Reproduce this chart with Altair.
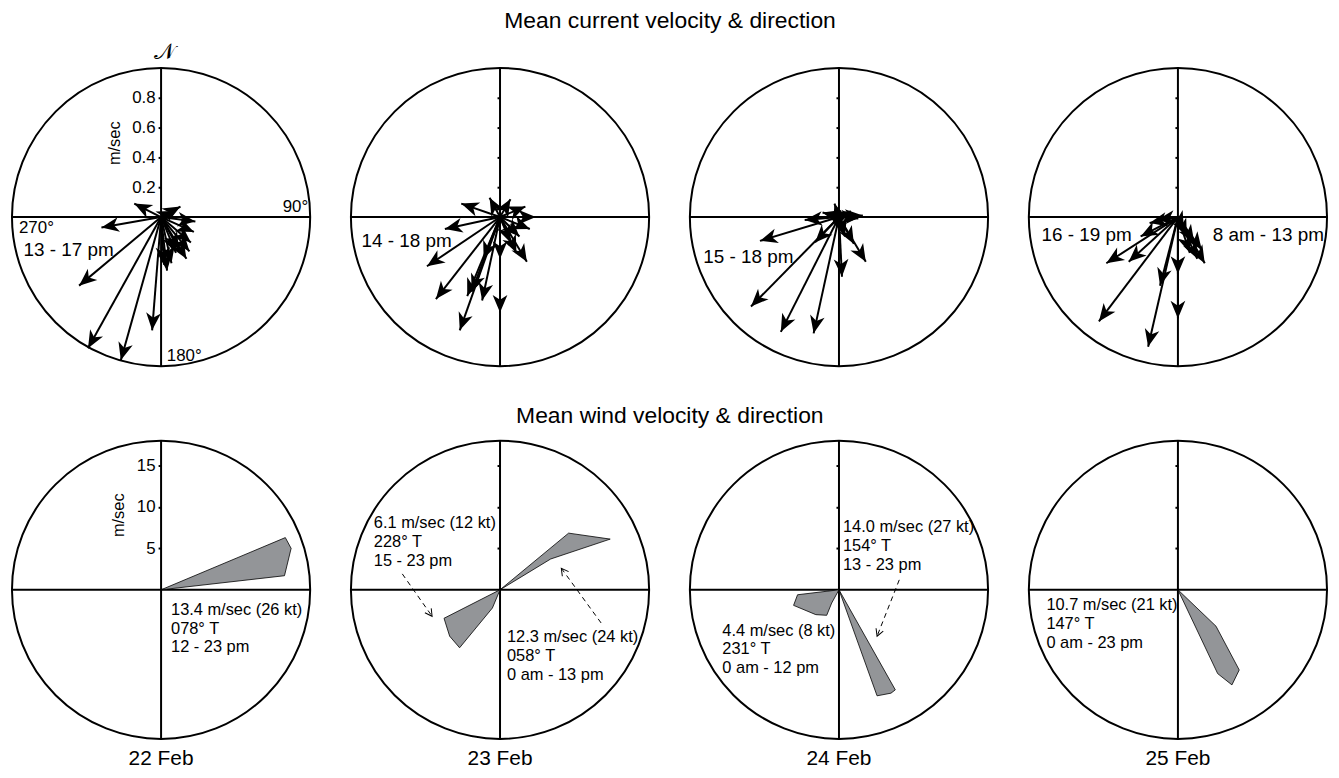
import altair as alt
import pandas as pd

# ---------------- data ----------------
dates = ["22 Feb", "23 Feb", "24 Feb", "25 Feb"]
title_current = "Mean current velocity & direction"
title_wind = "Mean wind velocity & direction"

# current vectors: east (u) and north (v) components, m/s
cur_u_22 = [-0.49, -0.27, -0.06, -0.55, -0.40, -0.18, 0.13, 0.09, 0.23, 0.22, 0.19, 0.17, 0.12, 0.10, 0.04, 0.07, 0.02, 0.20]
cur_v_22 = [-0.88, -0.96, -0.76, -0.46, -0.07, 0.09, 0.07, 0.04, -0.03, -0.10, -0.23, -0.28, -0.22, -0.24, -0.36, -0.31, -0.32, -0.17]
cur_u_23 = [-0.27, -0.43, -0.49, -0.37, -0.26, -0.22, -0.12, -0.19, 0.00, 0.00, 0.18, 0.11, 0.20, 0.24, 0.17, 0.07, -0.07, 0.13, 0.07, -0.11]
cur_v_23 = [-0.76, -0.55, -0.33, -0.08, 0.09, -0.53, -0.56, -0.50, -0.64, -0.28, -0.30, -0.24, -0.08, 0.00, 0.07, 0.12, 0.13, -0.13, -0.17, -0.28]
cur_u_24 = [-0.59, -0.39, -0.17, -0.53, 0.02, 0.18, -0.16, -0.23, 0.13, -0.03, 0.08, -0.11, 0.10, 0.04, 0.16]
cur_v_24 = [-0.60, -0.77, -0.78, -0.16, -0.40, -0.30, -0.17, -0.02, -0.01, 0.09, 0.04, 0.03, -0.18, -0.13, 0.01]
cur_u_25 = [-0.53, -0.20, 0.00, 0.00, -0.12, -0.48, -0.33, -0.25, -0.19, -0.14, 0.18, 0.13, 0.08, 0.16, 0.11, 0.06, 0.04]
cur_v_25 = [-0.70, -0.87, -0.68, -0.38, -0.46, -0.31, -0.30, -0.13, -0.04, -0.02, -0.31, -0.28, -0.24, -0.22, -0.17, -0.13, -0.08]
current_u = [cur_u_22, cur_u_23, cur_u_24, cur_u_25]
current_v = [cur_v_22, cur_v_23, cur_v_24, cur_v_25]

# wind polygons (vertices as east / north components, m/s)
wind_polys = [
    [  # 22 Feb
        ([0, 15.0, 15.7, 14.9, 0], [0, 6.3, 5.0, 1.7, 0]),
    ],
    [  # 23 Feb
        ([0, 8.28, 13.3, 6.12, 0], [0, 6.84, 6.12, 3.72, 0]),
        ([0, -0.92, -4.88, -6.08, -6.76, 0], [0, -2.2, -7.0, -5.6, -3.44, 0]),
    ],
    [  # 24 Feb
        ([0, -5.0, -5.48, -2.8, -1.48, -0.88, 0], [0, -0.6, -1.88, -3.0, -3.08, -1.6, 0]),
        ([0, 6.8, 6.28, 4.6, 0], [0, -12.08, -12.48, -12.8, 0]),
    ],
    [  # 25 Feb
        ([0, 4.6, 7.4, 6.52, 4.8, 0], [0, -4.4, -9.68, -11.48, -10.12, 0]),
    ],
]

# dashed pointer arrows (start -> end), m/s units
pointers = [
    [],
    [((-11.8, 1.92), (-8.2, -3.2)), ((12.2, -4.0), (7.4, 2.6))],
    [((7.28, 1.2), (4.6, -5.6))],
    [],
]

# wind annotations: text, anchor x, anchor y (m/s units)
wind_notes = [
    [("13.4 m/sec (26 kt)\n078° T\n12 - 23 pm", 1.2, -1.44)],
    [("6.1 m/sec (12 kt)\n228° T\n15 - 23 pm", -15.24, 9.0),
     ("12.3 m/sec (24 kt)\n058° T\n0 am - 13 pm", 0.84, -4.76)],
    [("14.0 m/sec (27 kt)\n154° T\n13 - 23 pm", 0.48, 8.56),
     ("4.4 m/sec (8 kt)\n231° T\n0 am - 12 pm", -14.08, -3.96)],
    [("10.7 m/sec (21 kt)\n147° T\n0 am - 23 pm", -15.88, -0.88)],
]

# current panel labels: text, x, y (m/s units), align
current_notes = [
    [("13 - 17 pm", -0.922, -0.22, "left")],
    [("14 - 18 pm", -0.929, -0.159, "left")],
    [("15 - 18 pm", -0.911, -0.27, "left")],
    [("16 - 19 pm", -0.915, -0.12, "left"), ("8 am - 13 pm", 0.233, -0.12, "left")],
]
compass_labels = [("270°", -0.953, -0.073, "left"), ("90°", 0.987, 0.067, "right"), ("180°", 0.038, -0.933, "left")]

current_ticks = [0.2, 0.4, 0.6, 0.8]
wind_ticks = [5, 10, 15]
R_CUR = 1.0
R_WIND = 18.0

# ---------------- styling ----------------
W = 300
FONT = "Liberation Sans"
HEAD = "M0,0 L0.42,1 L0,0.72 L-0.42,1 Z"
OPEN_HEAD = "M-0.55,1 L0,0 L0.55,1"


def panel(R, ticks, first, fmt):
    xs = alt.Scale(domain=[-R, R], nice=False, zero=False)
    ys = alt.Scale(domain=[-R, R], nice=False, zero=False)
    yaxis = alt.Axis(values=ticks, orient="left", offset=-W / 2, domain=False, grid=False,
                     tickSize=3, tickWidth=2, tickColor="black", labels=first,
                     labelFontSize=17, labelColor="black", labelPadding=3, format=fmt,
                     title=None)

    def X(f):
        return alt.X(f, type="quantitative", scale=xs, axis=None, title=None)

    def Y(f):
        return alt.Y(f, type="quantitative", scale=ys, axis=yaxis, title=None)

    circle = alt.Chart(pd.DataFrame({"x": [0.0], "y": [0.0]})).mark_point(
        shape="circle", size=W * W, filled=False, stroke="black", strokeWidth=2, opacity=1
    ).encode(x=X("x"), y=Y("y"))
    cross = alt.Chart(pd.DataFrame({"x": [-R, 0.0], "y": [0.0, -R], "x2": [R, 0.0], "y2": [0.0, R]})).mark_rule(
        color="black", strokeWidth=2
    ).encode(x=X("x"), y=Y("y"), x2="x2:Q", y2="y2:Q")
    return X, Y, [circle, cross]


def text_layer(X, Y, rows, size, align, baseline="middle", **kw):
    df = pd.DataFrame(rows, columns=["t", "x", "y"])
    return alt.Chart(df).mark_text(fontSize=size, align=align, baseline=baseline, color="black", **kw).encode(
        x=X("x"), y=Y("y"), text="t:N")


top_panels = []
for k in range(4):
    X, Y, layers = panel(R_CUR, current_ticks, k == 0, ".1f")
    df = pd.DataFrame({"u": current_u[k], "v": current_v[k]})
    base = alt.Chart(df).transform_calculate(
        x0="0", y0="0", ang="(atan2(datum.u, datum.v) * 180 / PI + 360) % 360")
    layers.append(base.mark_rule(color="black", strokeWidth=2).encode(
        x=X("x0"), y=Y("y0"), x2="u:Q", y2="v:Q"))
    layers.append(base.mark_point(shape=HEAD, size=1250, filled=True, color="black", opacity=1).encode(
        x=X("u"), y=Y("v"), angle=alt.Angle("ang:Q", scale=None)))
    for (t, x, y, al) in current_notes[k]:
        layers.append(text_layer(X, Y, [(t, x, y)], 19, al))
    if k == 0:
        for (t, x, y, al) in compass_labels:
            layers.append(text_layer(X, Y, [(t, x, y)], 17, al))
        layers.append(text_layer(X, Y, [("m/sec", -0.311, 0.495)], 16.5, "center", angle=270))
        layers.append(text_layer(X, Y, [("𝒩", 0.02, 1.107)], 22, "center"))
    if k == 1:
        layers.append(text_layer(X, Y, [(title_current, 1.14, 1.313)], 23, "center"))
    top_panels.append(alt.layer(*layers).properties(width=W, height=W))

bottom_panels = []
for k in range(4):
    X, Y, layers = panel(R_WIND, wind_ticks, k == 0, "d")
    rows = []
    for p, (us, vs) in enumerate(wind_polys[k]):
        for i, (u, v) in enumerate(zip(us, vs)):
            rows.append({"poly": p, "i": i, "u": u, "v": v})
    layers.append(alt.Chart(pd.DataFrame(rows)).mark_line(
        fill="#939598", stroke="black", strokeWidth=0.8, interpolate="linear"
    ).encode(x=X("u"), y=Y("v"), order="i:Q", detail="poly:N"))
    if pointers[k]:
        pdf = pd.DataFrame([{"x0": a[0], "y0": a[1], "x1": b[0], "y1": b[1]} for a, b in pointers[k]])
        pb = alt.Chart(pdf).transform_calculate(
            ang="(atan2(datum.x1 - datum.x0, datum.y1 - datum.y0) * 180 / PI + 360) % 360")
        layers.append(pb.mark_rule(color="black", strokeWidth=1, strokeDash=[5, 4]).encode(
            x=X("x0"), y=Y("y0"), x2="x1:Q", y2="y1:Q"))
        layers.append(pb.mark_point(shape=OPEN_HEAD, size=200, filled=False, stroke="black",
                                    strokeWidth=1, opacity=1).encode(
            x=X("x1"), y=Y("y1"), angle=alt.Angle("ang:Q", scale=None)))
    for (t, x, y) in wind_notes[k]:
        layers.append(text_layer(X, Y, [(t, x, y)], 16.5, "left", baseline="top", lineBreak="\n", lineHeight=19))
    if k == 0:
        layers.append(text_layer(X, Y, [("m/sec", -5.08, 9.0)], 16.5, "center", angle=270))
    if k == 1:
        layers.append(text_layer(X, Y, [(title_wind, 20.5, 21.0)], 23, "center"))
    bottom_panels.append(alt.layer(*layers).properties(
        width=W, height=W,
        title=alt.TitleParams(dates[k], orient="bottom", fontSize=21, fontWeight="normal",
                              baseline="top", offset=5, color="black")))

top = alt.hconcat(*top_panels, spacing=41, bounds="flush")
bottom = alt.hconcat(*bottom_panels, spacing=41, bounds="flush")

chart = alt.vconcat(top, bottom, spacing=35).properties(
    padding={"left": 0, "top": 0, "right": 0, "bottom": 0}
).configure(font=FONT).configure_view(strokeOpacity=0)

chart.save("out.html", embed_options={"renderer": "svg", "actions": False})
